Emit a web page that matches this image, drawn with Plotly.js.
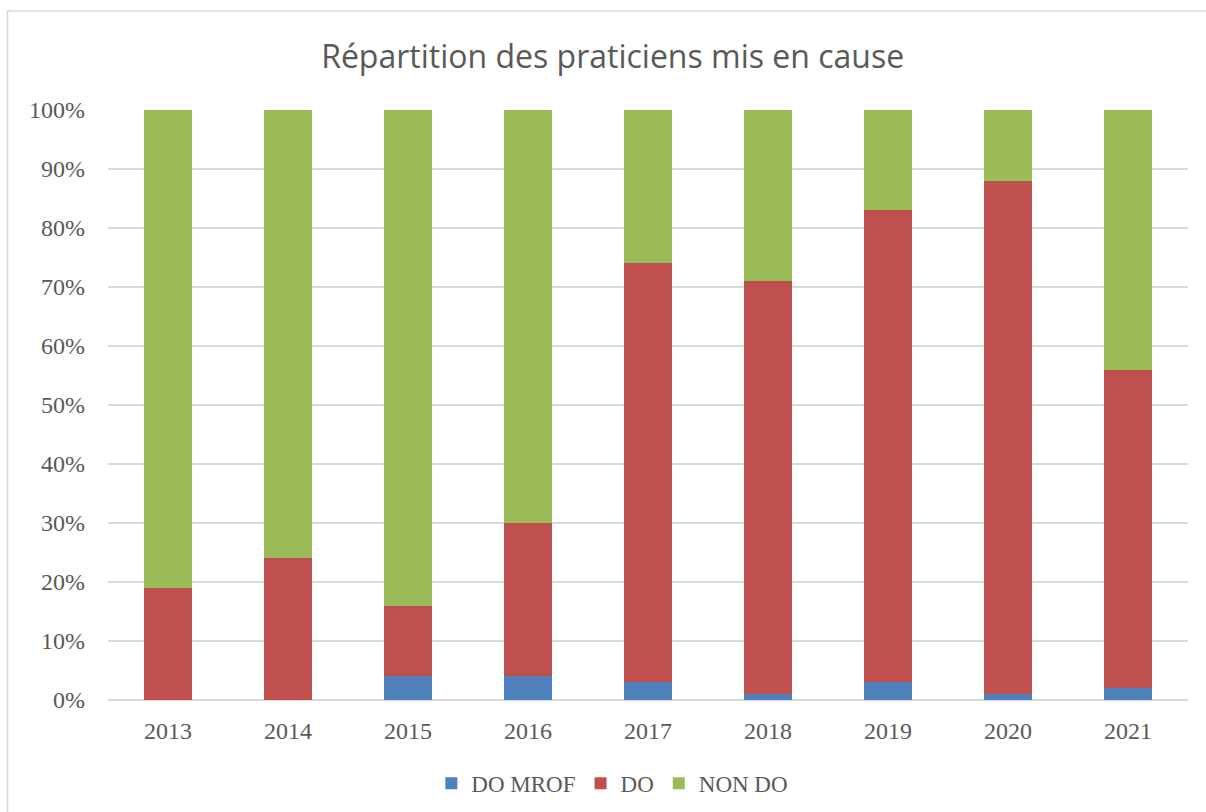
<!DOCTYPE html>
<html>
<head>
<meta charset="utf-8">
<script src="https://cdn.plot.ly/plotly-3.0.1.min.js"></script>
<style>html,body{margin:0;padding:0;background:#fff;}#chart{width:1206px;height:812px;}</style>
</head>
<body>
<div id="chart"></div>
<script>
const years = ['2013','2014','2015','2016','2017','2018','2019','2020','2021'];
const doMrof = [0, 0, 4, 4, 3, 1, 3, 1, 2];
const doVals = [19, 24, 12, 26, 71, 70, 80, 87, 54];
const nonDo = [81, 76, 84, 70, 26, 29, 17, 12, 44];
const yTicks = [0,10,20,30,40,50,60,70,80,90,100];
const yTickText = yTicks.map(v => v + '%');

const serif = 'Liberation Serif, Cambria, serif';
const textColor = '#595959';

const mk = (name, y, color) => ({
  type: 'bar', name: name, x: years, y: y,
  marker: {color: color, line: {width: 0}},
  hoverinfo: 'x+y+name'
});

const data = [
  mk('DO MROF', doMrof, '#4F81BD'),
  mk('DO', doVals, '#C0504D'),
  mk('NON DO', nonDo, '#9BBB59')
];

const layout = {
  width: 1206, height: 812,
  margin: {l: 108, r: 18, t: 110, b: 112, autoexpand: false},
  paper_bgcolor: '#ffffff', plot_bgcolor: '#ffffff',
  barmode: 'stack', bargap: 0.6,
  title: {
    text: 'Répartition des praticiens mis en cause',
    font: {family: 'Open Sans, Noto Sans, sans-serif', size: 32, color: textColor},
    x: 0.508, xref: 'container', xanchor: 'center',
    y: 0.93, yref: 'container', yanchor: 'middle'
  },
  xaxis: {
    type: 'category', showgrid: false, zeroline: false,
    showline: false, ticks: '',
    tickfont: {family: serif, size: 24, color: textColor},
    ticklabelstandoff: 14, automargin: false
  },
  yaxis: {
    range: [0, 100], tickvals: yTicks, ticktext: yTickText,
    showgrid: true, gridcolor: '#D9D9D9', gridwidth: 1.3,
    zeroline: true, zerolinecolor: '#D9D9D9', zerolinewidth: 1.3,
    showline: false, ticks: '',
    tickfont: {family: serif, size: 24, color: textColor},
    ticklabelstandoff: 22, automargin: false
  },
  showlegend: true,
  legend: {
    orientation: 'h', x: 0.467, xanchor: 'center', xref: 'paper',
    y: -0.141, yanchor: 'middle',
    font: {family: serif, size: 23, color: textColor},
    traceorder: 'normal', itemwidth: 30
  },
  shapes: [
    {type: 'rect', xref: 'paper', yref: 'paper',
     x0: (7.5 - 108) / 1080, x1: (1230 - 108) / 1080,
     y0: (700 - 830) / 590, y1: (700 - 11) / 590,
     line: {color: '#D9D9D9', width: 1.5}, fillcolor: 'rgba(0,0,0,0)', layer: 'below'}
  ]
};

Plotly.newPlot('chart', data, layout, {displayModeBar: false, staticPlot: true});
</script>
</body>
</html>
